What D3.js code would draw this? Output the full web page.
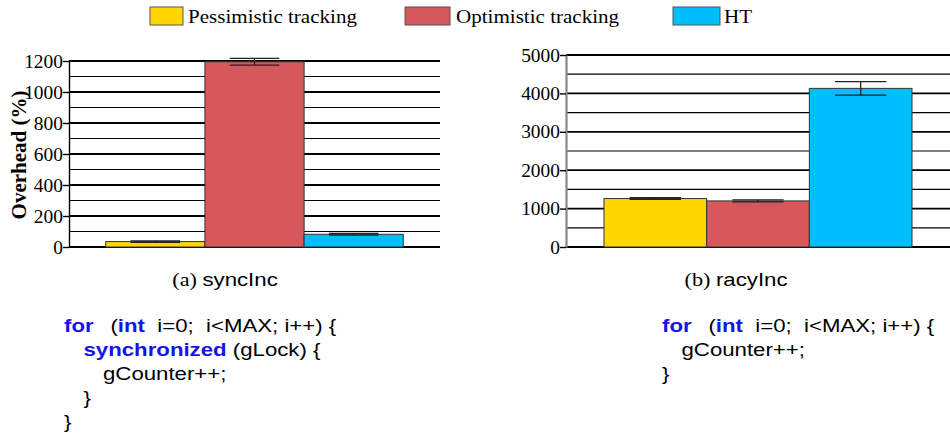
<!DOCTYPE html>
<html>
<head>
<meta charset="utf-8">
<script src="https://cdn.jsdelivr.net/npm/d3@7"></script>
<style>
  body { margin: 0; background: #fff; }
</style>
</head>
<body>
<div id="chart"></div>
<script>
// data
const seriesNames = ["Pessimistic tracking", "Optimistic tracking", "HT"];
const seriesColors = ["#FFD700", "#D7585A", "#00BFFF"];

const syncValues = [35, 1195, 82];
const syncErrors = [5, 22, 6];
const syncTicks = [0, 200, 400, 600, 800, 1000, 1200];

const racyValues = [1262, 1200, 4131];
const racyErrors = [20, 26, 175];
const racyTicks = [0, 1000, 2000, 3000, 4000, 5000];

const syncCode = [
  "**for**\u2009  (**int**  i=0;  i<MAX; i++) {",
  "  **synchronized** (gLock) {",
  "    gCounter++;",
  "  }",
  "}"
];
const racyCode = [
  "**for**\u2009  (**int**  i=0;  i<MAX; i++) {",
  "  gCounter++;",
  "}"
];

// the original figure is stretched sideways, so the text is too
const SX = 1.17;
const serif = "'Liberation Serif', 'Times New Roman', serif";
const sans = "'Liberation Sans', Arial, sans-serif";

const svg = d3.select("#chart")
  .append("svg")
  .attr("width", 950)
  .attr("height", 438);

//Legend
const legendX = [150, 405, 673];
const legendW = [33, 45, 47];
const legendTextX = [188, 456, 724];
seriesNames.forEach((name, i) => {
  svg.append("rect")
    .attr("x", legendX[i]).attr("y", 7)
    .attr("width", legendW[i]).attr("height", 18)
    .attr("fill", seriesColors[i])
    .attr("stroke", "#555").attr("stroke-width", 1);
  svg.append("text")
    .attr("transform", `translate(${legendTextX[i]}, 23) scale(${SX}, 1)`)
    .style("font-family", serif).style("font-size", "18px")
    .text(name);
});

//One bar panel
function drawPanel(opts) {
  const x = d3.scaleBand()
    .domain(seriesNames)
    .range([opts.left, opts.right])
    .paddingInner(0)
    .paddingOuter(0.37);
  const y = d3.scaleLinear()
    .domain([0, opts.max])
    .range([247, opts.top]);

  const g = svg.append("g");

  //grid lines, thicker at the labelled ticks
  g.selectAll(".grid")
    .data(d3.range(0, opts.max + 1, opts.minor))
    .join("line")
    .attr("x1", opts.left).attr("x2", opts.right)
    .attr("y1", d => y(d)).attr("y2", d => y(d))
    .attr("stroke", "#000")
    .attr("stroke-width", d => opts.ticks.includes(d) ? 1.8 : 1.2);

  //bars
  g.selectAll(".bar")
    .data(opts.values)
    .join("rect")
    .attr("x", (d, i) => x(seriesNames[i]))
    .attr("y", d => y(d))
    .attr("width", x.bandwidth())
    .attr("height", d => y(0) - y(d))
    .attr("fill", (d, i) => seriesColors[i])
    .attr("stroke", "#333").attr("stroke-width", 1);

  //error bars
  const bw = x.bandwidth();
  opts.values.forEach((v, i) => {
    const cx = x(seriesNames[i]) + bw / 2;
    const e = opts.errors[i];
    const eb = g.append("g").attr("stroke", "#222").attr("stroke-width", 1.3);
    eb.append("line").attr("x1", cx).attr("x2", cx).attr("y1", y(v + e)).attr("y2", y(v - e));
    eb.append("line").attr("x1", cx - bw / 4).attr("x2", cx + bw / 4).attr("y1", y(v + e)).attr("y2", y(v + e));
    eb.append("line").attr("x1", cx - bw / 4).attr("x2", cx + bw / 4).attr("y1", y(v - e)).attr("y2", y(v - e));
  });

  //Y axis
  const axis = g.append("g")
    .attr("transform", `translate(${opts.left}, 0)`)
    .call(d3.axisLeft(y).tickValues(opts.ticks).tickFormat(d3.format("d"))
      .tickSize(6).tickSizeOuter(0).tickPadding(0));
  axis.select(".domain").attr("stroke", opts.axisColor).attr("stroke-width", opts.axisWidth);
  axis.selectAll(".tick line").attr("stroke", "#000").attr("stroke-width", 1.4);
  axis.selectAll(".tick text")
    .attr("x", -6 / 1.08)
    .attr("dy", "0.34em")
    .attr("transform", "scale(1.08, 1)")
    .style("font-family", serif).style("font-size", "18px")
    .attr("fill", "#000");

  //caption
  const cap = svg.append("text")
    .attr("transform", `translate(${opts.captionX}, 286) scale(${SX}, 1)`)
    .attr("text-anchor", "middle")
    .style("font-size", "19px");
  cap.append("tspan").style("font-family", serif).text(opts.label + "\u00a0");
  cap.append("tspan").style("font-family", sans).text(opts.name);
}

drawPanel({left: 69, right: 440, top: 61, max: 1200, minor: 100,
  ticks: syncTicks, values: syncValues, errors: syncErrors,
  axisColor: "#000", axisWidth: 1.4, captionX: 225, label: "(a)", name: "syncInc"});
drawPanel({left: 566, right: 950, top: 55, max: 5000, minor: 500,
  ticks: racyTicks, values: racyValues, errors: racyErrors,
  axisColor: "#888", axisWidth: 2.2, captionX: 736, label: "(b)", name: "racyInc"});

//Y axis title
svg.append("text")
  .attr("transform", "translate(26, 155) rotate(-90)")
  .attr("text-anchor", "middle")
  .style("font-family", serif).style("font-size", "21px").style("font-weight", "bold")
  .text("Overhead (%)");

//Code listings
function drawCode(lines, x0, y0) {
  lines.forEach((line, r) => {
    const indent = line.match(/^ */)[0].length / 2;
    const t = svg.append("text")
      .attr("transform", `translate(${x0 + indent * 19.5}, ${y0 + r * 24}) scale(${SX}, 1)`)
      .style("font-family", sans).style("font-size", "19px");
    line.trim().split("**").forEach((part, j) => {
      const kw = j % 2 === 1;
      t.append("tspan")
        .attr("fill", kw ? "#1414e6" : "#000")
        .style("font-weight", kw ? "bold" : "normal")
        .text(part.replace(/ /g, "\u00a0"));
    });
  });
}
drawCode(syncCode, 64, 332);
drawCode(racyCode, 662, 332);
</script>
</body>
</html>
